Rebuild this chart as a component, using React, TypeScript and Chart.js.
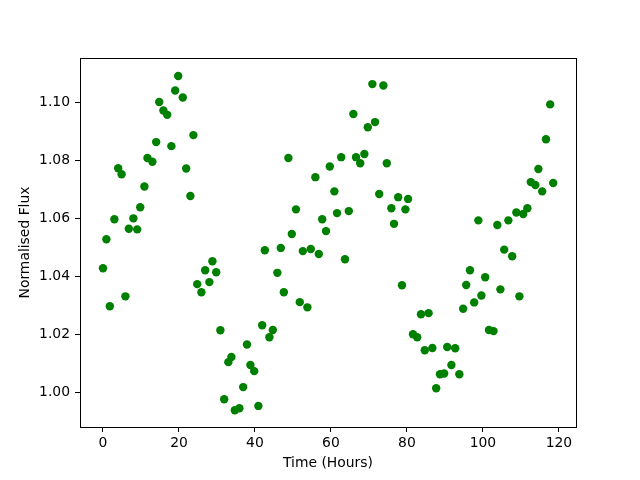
import React, { useEffect, useRef } from "react";
import { Chart, registerables } from "chart.js";

Chart.register(...registerables);

const timeHours: number[] = [
  0.0, 0.9, 1.8, 3.0, 4.0, 4.9, 5.9, 6.8, 8.0, 9.0, 9.8, 10.9, 11.7, 13.0, 14.0, 14.8,
  15.9, 16.9, 18.0, 19.0, 19.8, 21.0, 21.9, 23.0, 23.8, 24.8, 25.9, 26.9, 28.0, 28.8,
  29.8, 30.9, 31.9, 33.0, 33.8, 34.7, 35.9, 36.9, 37.9, 38.8, 39.8, 40.9, 41.9, 42.6,
  43.8, 44.7, 45.9, 46.8, 47.6, 48.8, 49.7, 50.8, 51.8, 52.6, 53.8, 54.7, 55.9, 56.8,
  57.7, 58.7, 59.7, 60.9, 61.6, 62.7, 63.7, 64.7, 65.9, 66.6, 67.7, 68.8, 69.7, 70.9,
  71.6, 72.7, 73.8, 74.7, 75.9, 76.6, 77.7, 78.7, 79.6, 80.3, 81.6, 82.7, 83.7, 84.7,
  85.7, 86.7, 87.7, 88.7, 89.8, 90.6, 91.7, 92.7, 93.8, 94.8, 95.6, 96.6, 97.7, 98.8,
  99.6, 100.6, 101.6, 102.8, 103.8, 104.6, 105.6, 106.7, 107.7, 108.8, 109.6, 110.6,
  111.7, 112.6, 113.8, 114.6, 115.6, 116.6, 117.7, 118.5,
];

const normalisedFlux: number[] = [
  1.0427, 1.0527, 1.0296, 1.0596, 1.0772, 1.0751, 1.033, 1.0563, 1.0599, 1.0561, 1.0637,
  1.0709, 1.0807, 1.0794, 1.0862, 1.1, 1.0971, 1.0956, 1.0848, 1.104, 1.109, 1.1016,
  1.0771, 1.0676, 1.0886, 1.0372, 1.0344, 1.042, 1.0379, 1.0451, 1.0413, 1.0213, 0.9975,
  1.0103, 1.0121, 0.9937, 0.9944, 1.0017, 1.0164, 1.0093, 1.0072, 0.9952, 1.023, 1.0489,
  1.0189, 1.0214, 1.0411, 1.0497, 1.0344, 1.0807, 1.0545, 1.063, 1.031, 1.0486, 1.0292,
  1.0493, 1.0741, 1.0476, 1.0596, 1.0555, 1.0778, 1.0692, 1.0617, 1.081, 1.0458, 1.0624,
  1.0959, 1.081, 1.0789, 1.0821, 1.0913, 1.1062, 1.0931, 1.0683, 1.1057, 1.0789, 1.0634,
  1.058, 1.0672, 1.0368, 1.063, 1.0666, 1.0199, 1.0189, 1.0268, 1.0144, 1.0272, 1.0152,
  1.0013, 1.0061, 1.0064, 1.0155, 1.0093, 1.0151, 1.0061, 1.0287, 1.0369, 1.042, 1.0309,
  1.0592, 1.0333, 1.0396, 1.0214, 1.021, 1.0576, 1.0354, 1.0491, 1.0592, 1.0468, 1.0619,
  1.033, 1.0614, 1.0634, 1.0724, 1.0714, 1.0769, 1.0692, 1.0872, 1.0992, 1.0721,
];

const xTickValues: number[] = [0, 20, 40, 60, 80, 100, 120];
const yTickValues: number[] = [1.0, 1.02, 1.04, 1.06, 1.08, 1.1];

const xTitle = "Time (Hours)";
const yTitle = "Normalised Flux";

const FONT = "'DejaVu Sans', sans-serif";

const framePlugin = {
  id: "frame",
  afterDraw(chart: any) {
    const { ctx, chartArea } = chart;
    ctx.save();
    ctx.strokeStyle = "#000";
    ctx.lineWidth = 1;
    ctx.strokeRect(
      Math.round(chartArea.left) + 0.5,
      Math.round(chartArea.top) + 0.5,
      Math.round(chartArea.right - chartArea.left),
      Math.round(chartArea.bottom - chartArea.top)
    );
    ctx.restore();
  },
};

export default function App() {
  const canvasRef = useRef<HTMLCanvasElement | null>(null);

  useEffect(() => {
    if (!canvasRef.current) return;
    const points = timeHours.map((t, i) => ({ x: t, y: normalisedFlux[i] }));
    const chart = new Chart(canvasRef.current, {
      type: "scatter",
      data: {
        datasets: [
          {
            data: points,
            backgroundColor: "#008000",
            borderColor: "#008000",
            pointRadius: 4.2,
            pointHoverRadius: 4.2,
            borderWidth: 0,
          },
        ],
      },
      plugins: [framePlugin],
      options: {
        animation: false,
        responsive: false,
        maintainAspectRatio: false,
        devicePixelRatio: 1,
        layout: { padding: { left: 0, right: 64, top: 58, bottom: 0 } },
        plugins: {
          legend: { display: false },
          tooltip: { enabled: false },
        },
        scales: {
          x: {
            type: "linear",
            min: -6.05,
            max: 124.5,
            afterBuildTicks: (scale: any) => {
              scale.ticks = xTickValues.map((v) => ({ value: v }));
            },
            afterFit: (scale: any) => {
              scale.height = 53;
            },
            grid: {
              display: true,
              drawOnChartArea: false,
              drawTicks: true,
              tickLength: 5,
              color: "#000",
            },
            border: { display: true, color: "#000" },
            ticks: {
              color: "#000",
              font: { family: FONT, size: 13.9 },
              padding: 3,
              maxRotation: 0,
              callback: (v: any) => String(v),
            },
            title: {
              display: true,
              text: xTitle,
              color: "#000",
              font: { family: FONT, size: 13.9 },
              padding: { top: 0, bottom: 8.6 },
            },
          },
          y: {
            type: "linear",
            min: 0.98793,
            max: 1.1152,
            afterBuildTicks: (scale: any) => {
              scale.ticks = yTickValues.map((v) => ({ value: v }));
            },
            afterFit: (scale: any) => {
              scale.width = 80;
            },
            grid: {
              display: true,
              drawOnChartArea: false,
              drawTicks: true,
              tickLength: 5,
              color: "#000",
            },
            border: { display: true, color: "#000" },
            ticks: {
              color: "#000",
              font: { family: FONT, size: 13.9 },
              padding: 5,
              callback: (v: any) => Number(v).toFixed(2),
            },
            title: {
              display: true,
              text: yTitle,
              color: "#000",
              font: { family: FONT, size: 13.9 },
              padding: { top: 17, bottom: 0 },
            },
          },
        },
      },
    });
    return () => chart.destroy();
  }, []);

  return (
    <div style={{ position: "fixed", left: 0, top: 0, width: 640, height: 480, background: "#fff" }}>
      <canvas ref={canvasRef} width={640} height={480} style={{ width: 640, height: 480 }} />
    </div>
  );
}
